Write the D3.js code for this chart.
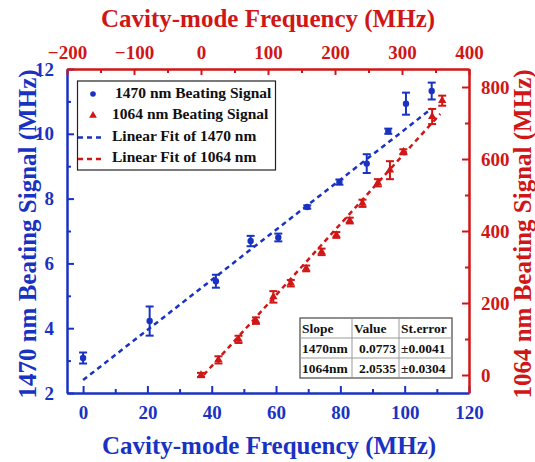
<!DOCTYPE html>
<html>
<head>
<meta charset="utf-8">
<script src="https://cdn.jsdelivr.net/npm/d3@7"></script>
<style>
  html, body { margin: 0; padding: 0; background: #fff; }
  svg { display: block; font-family: "Liberation Serif", "Times New Roman", serif; font-weight: bold; }
</style>
</head>
<body>
<script>
// ---- data ----
const blueX = [0, 20.7, 41.3, 52.1, 60.7, 69.7, 79.7, 88.2, 94.9, 100.4, 108.4];
const blueY = [3.08, 4.22, 5.45, 6.69, 6.80, 7.74, 8.51, 9.08, 10.08, 10.93, 11.32];
const blueErr = [0.17, 0.45, 0.2, 0.16, 0.12, 0.05, 0.08, 0.29, 0.08, 0.34, 0.26];

const redX = [0, 26, 56, 82, 108, 134, 157, 180, 202, 222, 241, 264, 282, 302, 345, 360];
const redY = [0, 42, 99, 151, 217, 255, 296, 342, 389, 429, 477, 534, 569, 620, 718, 762];
const redErr = [6, 10, 10, 9, 16, 9, 8, 9, 8, 8, 10, 10, 25, 7, 21, 14];

const blueFit = { slope: 0.0773, intercept: 2.40, x0: 0, x1: 108.4 };
const redFit = { slope: 2.0535, intercept: -8, x0: 4, x1: 357 };

const bottomTicks = [0, 20, 40, 60, 80, 100, 120];
const topTicks = [-200, -100, 0, 100, 200, 300, 400];
const leftTicks = [2, 4, 6, 8, 10, 12];
const rightTicks = [0, 200, 400, 600, 800];

const legendLabels = ["1470 nm Beating Signal", "1064 nm Beating Signal", "Linear Fit of 1470 nm", "Linear Fit of 1064 nm"];
const tableRows = [["Slope", "Value", "St.error"], ["1470nm", "0.0773", "\u00b10.0041"], ["1064nm", "2.0535", "\u00b10.0304"]];

const titleTop = "Cavity-mode Frequency (MHz)";
const titleBottom = "Cavity-mode Frequency (MHz)";
const titleLeft = "1470 nm Beating Signal (MHz)";
const titleRight = "1064 nm Beating Signal (MHz)";

// ---- setup ----
const W = 535, H = 462;
const BLUE = "#1a32c2", RED = "#d01616";
const L = 67, R = 469, T = 69, B = 393;

const svg = d3.select("body").append("svg").attr("width", W).attr("height", H);
svg.append("rect").attr("width", W).attr("height", H).attr("fill", "#fff");

const xB = d3.scaleLinear().domain([-5, 120]).range([L, R]);
const xT = d3.scaleLinear().domain([-200, 400]).range([L, R]);
const yL = d3.scaleLinear().domain([2, 12]).range([B, T]);
const yR = d3.scaleLinear().domain([-50, 850]).range([B, T]);

function styleAxis(g, color, fs) {
  g.select(".domain").attr("stroke", color).attr("stroke-width", 2.5);
  g.selectAll(".tick line").attr("stroke", color).attr("stroke-width", 2);
  g.selectAll(".tick text").attr("fill", color).attr("font-size", fs)
    .attr("font-family", "Liberation Serif, serif").attr("font-weight", "bold");
}

// minor ticks
const minorB = d3.range(10, 120, 20);
const minorT = d3.range(-150, 400, 100);
const minorL = d3.range(3, 12, 2);
const minorR = d3.range(100, 850, 200);

// bottom axis (blue)
const gB = svg.append("g").attr("transform", `translate(0,${B})`)
  .call(d3.axisBottom(xB).tickValues(bottomTicks).tickSizeInner(-7).tickSizeOuter(0).tickPadding(13));
styleAxis(gB, BLUE, 19);
svg.append("g").attr("transform", `translate(0,${B})`)
  .call(d3.axisBottom(xB).tickValues(minorB).tickSizeInner(-4).tickSizeOuter(0).tickFormat(""))
  .call(g => { g.select(".domain").remove(); g.selectAll("line").attr("stroke", BLUE).attr("stroke-width", 2); });

// left axis (blue)
const gL = svg.append("g").attr("transform", `translate(${L},0)`)
  .call(d3.axisLeft(yL).tickValues(leftTicks).tickSizeInner(-7).tickSizeOuter(0).tickPadding(13));
styleAxis(gL, BLUE, 19);
svg.append("g").attr("transform", `translate(${L},0)`)
  .call(d3.axisLeft(yL).tickValues(minorL).tickSizeInner(-4).tickSizeOuter(0).tickFormat(""))
  .call(g => { g.select(".domain").remove(); g.selectAll("line").attr("stroke", BLUE).attr("stroke-width", 2); });

// top axis (red)
const gT = svg.append("g").attr("transform", `translate(0,${T})`)
  .call(d3.axisTop(xT).tickValues(topTicks).tickSizeInner(-6).tickSizeOuter(0).tickPadding(10));
styleAxis(gT, RED, 19);
svg.append("g").attr("transform", `translate(0,${T})`)
  .call(d3.axisTop(xT).tickValues(minorT).tickSizeInner(-4).tickSizeOuter(0).tickFormat(""))
  .call(g => { g.select(".domain").remove(); g.selectAll("line").attr("stroke", RED).attr("stroke-width", 2); });

// right axis (red)
const gR = svg.append("g").attr("transform", `translate(${R},0)`)
  .call(d3.axisRight(yR).tickValues(rightTicks).tickSizeInner(-7).tickSizeOuter(0).tickPadding(12));
styleAxis(gR, RED, 19);
svg.append("g").attr("transform", `translate(${R},0)`)
  .call(d3.axisRight(yR).tickValues(minorR).tickSizeInner(-4).tickSizeOuter(0).tickFormat(""))
  .call(g => { g.select(".domain").remove(); g.selectAll("line").attr("stroke", RED).attr("stroke-width", 2); });

// axis titles
svg.append("text").attr("x", 268).attr("y", 27).attr("text-anchor", "middle")
  .attr("fill", RED).attr("font-size", 25).text(titleTop);
svg.append("text").attr("x", 269).attr("y", 454).attr("text-anchor", "middle")
  .attr("fill", BLUE).attr("font-size", 25).text(titleBottom);
svg.append("text").attr("transform", "translate(36,234) rotate(-90)").attr("text-anchor", "middle")
  .attr("fill", BLUE).attr("font-size", 25).text(titleLeft);
svg.append("text").attr("transform", "translate(531,234) rotate(-90)").attr("text-anchor", "middle")
  .attr("fill", RED).attr("font-size", 25).text(titleRight);

// fit lines
svg.append("line")
  .attr("x1", xB(blueFit.x0)).attr("y1", yL(blueFit.intercept + blueFit.slope * blueFit.x0))
  .attr("x2", xB(blueFit.x1)).attr("y2", yL(blueFit.intercept + blueFit.slope * blueFit.x1))
  .attr("stroke", BLUE).attr("stroke-width", 2.5).attr("stroke-dasharray", "5,4");
svg.append("line")
  .attr("x1", xT(redFit.x0)).attr("y1", yR(redFit.intercept + redFit.slope * redFit.x0))
  .attr("x2", xT(redFit.x1)).attr("y2", yR(redFit.intercept + redFit.slope * redFit.x1))
  .attr("stroke", RED).attr("stroke-width", 2.5).attr("stroke-dasharray", "5,4");

// error bars + markers
function errBars(xs, ys, es, xs_, ys_, color) {
  const g = svg.append("g").attr("stroke", color).attr("stroke-width", 2);
  xs.forEach((x, i) => {
    const cx = xs_(x), y1 = ys_(ys[i] - es[i]), y2 = ys_(ys[i] + es[i]);
    g.append("line").attr("x1", cx).attr("x2", cx).attr("y1", y1).attr("y2", y2);
    g.append("line").attr("x1", cx - 4).attr("x2", cx + 4).attr("y1", y1).attr("y2", y1);
    g.append("line").attr("x1", cx - 4).attr("x2", cx + 4).attr("y1", y2).attr("y2", y2);
  });
}
errBars(blueX, blueY, blueErr, xB, yL, BLUE);
errBars(redX, redY, redErr, xT, yR, RED);

svg.append("g").selectAll("circle").data(blueX).join("circle")
  .attr("cx", d => xB(d)).attr("cy", (d, i) => yL(blueY[i])).attr("r", 3.2).attr("fill", BLUE);
const tri = d3.symbol().type(d3.symbolTriangle).size(30);
svg.append("g").selectAll("path").data(redX).join("path")
  .attr("d", tri).attr("transform", (d, i) => `translate(${xT(d)},${yR(redY[i])})`).attr("fill", RED);

// legend
const lg = svg.append("g");
lg.append("rect").attr("x", 77.5).attr("y", 81).attr("width", 198).attr("height", 89)
  .attr("fill", "#fff").attr("stroke", "#222").attr("stroke-width", 1.2);
const rowY = [98, 119, 141, 162];
lg.append("circle").attr("cx", 93).attr("cy", 94).attr("r", 2.8).attr("fill", BLUE);
lg.append("path").attr("d", d3.symbol().type(d3.symbolTriangle).size(26)).attr("transform", "translate(93,115.5)").attr("fill", RED);
lg.append("line").attr("x1", 78).attr("x2", 104).attr("y1", 137.5).attr("y2", 137.5)
  .attr("stroke", BLUE).attr("stroke-width", 2.5).attr("stroke-dasharray", "5,4");
lg.append("line").attr("x1", 78).attr("x2", 104).attr("y1", 159).attr("y2", 159)
  .attr("stroke", RED).attr("stroke-width", 2.5).attr("stroke-dasharray", "5,4");
legendLabels.forEach((t, i) => {
  lg.append("text").attr("x", i === 0 ? 115 : 112).attr("y", rowY[i])
    .attr("font-size", 15.5).attr("fill", "#111").text(t);
});

// table
const tg = svg.append("g");
const colX = [300, 352, 399, 452];
const rowT = [318, 338, 358, 378];
tg.append("rect").attr("x", 300).attr("y", 318).attr("width", 152).attr("height", 60)
  .attr("fill", "#fff").attr("stroke", "#555").attr("stroke-width", 1.3);
[1, 2].forEach(c => tg.append("line").attr("x1", colX[c]).attr("x2", colX[c]).attr("y1", 318).attr("y2", 378)
  .attr("stroke", "#999").attr("stroke-width", 1));
[1, 2].forEach(r => tg.append("line").attr("x1", 300).attr("x2", 452).attr("y1", rowT[r]).attr("y2", rowT[r])
  .attr("stroke", "#999").attr("stroke-width", 1));
tableRows.forEach((row, r) => {
  row.forEach((cell, c) => {
    let x, anchor;
    if (c === 0) { x = colX[0] + 2; anchor = "start"; }
    else if (c === 1) { x = r === 0 ? colX[1] + 2 : colX[2] - 3; anchor = r === 0 ? "start" : "end"; }
    else { x = colX[2] + 2; anchor = "start"; }
    tg.append("text").attr("x", x).attr("y", rowT[r] + 15).attr("text-anchor", anchor)
      .attr("font-size", 13.5).attr("fill", "#111").text(cell);
  });
});
</script>
</body>
</html>
